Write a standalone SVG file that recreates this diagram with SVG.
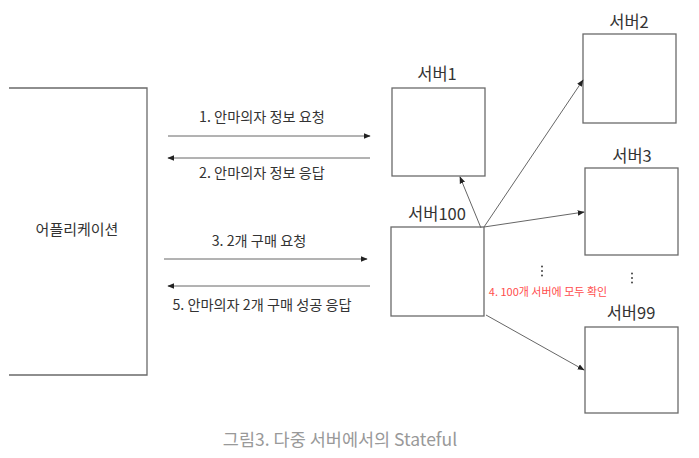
<svg xmlns="http://www.w3.org/2000/svg" width="699" height="458" viewBox="0 0 699 458">
<defs>
<style>
text{font-family:"Noto Sans CJK KR","Noto Sans",sans-serif;fill:#333}
.box{fill:#fff;stroke:#6a6a6a;stroke-width:1.3}
.lbl{font-size:16.5px;text-anchor:middle}
.msg{font-size:14.2px;text-anchor:middle}
.c{stroke:#666;stroke-width:1;fill:none;marker-end:url(#ah)}
.dot{fill:#444}
</style>
<marker id="ah" viewBox="0 0 10 10" refX="9" refY="5" markerWidth="7" markerHeight="7" markerUnits="userSpaceOnUse" orient="auto">
<path d="M0,1 L10,5 L0,9 z" fill="#222"/>
</marker>
</defs>
<rect width="699" height="458" fill="#fff"/>
<g id="app">
<path d="M9,88 H147 V375 H9" fill="none" stroke="#6a6a6a" stroke-width="1.3"/>
<text x="77" y="235" style="font-size:15px;text-anchor:middle">어플리케이션</text>
</g>
<g id="server1">
<rect class="box" x="392" y="88" width="93" height="88"/>
<text class="lbl" x="437" y="80">서버1</text>
</g>
<g id="server2">
<rect class="box" x="583" y="34" width="93" height="89"/>
<text class="lbl" x="629" y="28">서버2</text>
</g>
<g id="server3">
<rect class="box" x="585" y="168" width="93" height="87"/>
<text class="lbl" x="632" y="162">서버3</text>
</g>
<g id="server100">
<rect class="box" x="391" y="227" width="93" height="89"/>
<text class="lbl" x="437" y="220">서버100</text>
</g>
<g id="server99">
<rect class="box" x="585" y="327" width="93" height="86"/>
<text class="lbl" x="631" y="319">서버99</text>
</g>
<g id="connectors">
<line class="c" x1="168" y1="136" x2="370" y2="136"/>
<line class="c" x1="370" y1="158" x2="168" y2="158"/>
<line class="c" x1="164" y1="259" x2="367" y2="259"/>
<line class="c" x1="370" y1="286" x2="168" y2="286"/>
<line class="c" x1="481" y1="228" x2="460" y2="177"/>
<line class="c" x1="484" y1="227" x2="583" y2="80"/>
<line class="c" x1="484" y1="227" x2="584" y2="212"/>
<line class="c" x1="486" y1="315" x2="584" y2="370"/>
</g>
<g id="labels">
<text class="msg" x="262" y="122">1. 안마의자 정보 요청</text>
<text class="msg" x="262" y="178">2. 안마의자 정보 응답</text>
<text class="msg" x="259" y="246">3. 2개 구매 요청</text>
<text class="msg" x="262" y="310">5. 안마의자 2개 구매 성공 응답</text>
<text x="548" y="296" style="font-size:11px;text-anchor:middle;fill:#ff4d4d">4. 100개 서버에 모두 확인</text>
</g>
<g id="dots">
<circle class="dot" cx="542" cy="266.5" r="1"/>
<circle class="dot" cx="542" cy="271" r="1"/>
<circle class="dot" cx="542" cy="275.5" r="1"/>
<circle class="dot" cx="632" cy="273.5" r="1"/>
<circle class="dot" cx="632" cy="278" r="1"/>
<circle class="dot" cx="632" cy="282.5" r="1"/>
</g>
<text x="340" y="446" style="font-size:17.5px;text-anchor:middle;fill:#999">그림3. 다중 서버에서의 Stateful</text>
</svg>
